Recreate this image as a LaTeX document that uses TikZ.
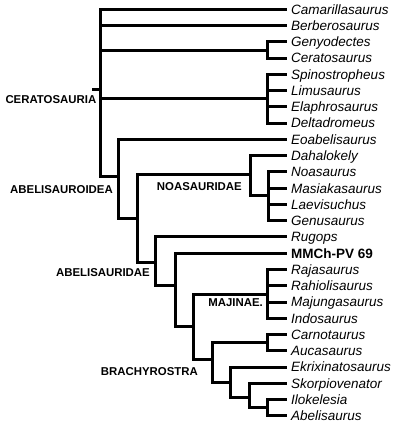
\documentclass[tikz,border=0pt]{standalone}
\usepackage{fontspec}
\setmainfont{Liberation Sans}
\begin{document}
\begin{tikzpicture}[x=1pt,y=-1pt,
  br/.style={line width=3pt},
  taxon/.style={anchor=base west, inner sep=0pt, xshift=4pt, yshift=-4.8pt, font=\itshape\fontsize{13.5}{16}\selectfont},
  taxonb/.style={taxon, font=\bfseries\fontsize{13.5}{16}\selectfont},
  clade/.style={anchor=east, inner sep=0pt, font=\bfseries\fontsize{11.4}{13}\selectfont}]
\useasboundingbox (0,0) rectangle (400,426);
% tips
\foreach \i/\yy in {0/9.3,1/25.6,2/41.8,3/58.1,4/74.3,5/90.6,6/106.9,7/123.1,8/139.4,9/155.6,10/171.9,11/188.2,12/204.4,13/220.7,14/236.9,15/253.2,16/269.5,17/285.7,18/302.0,19/318.2,20/334.5,21/350.8,22/367.0,23/383.3,24/399.5,25/415.8}
  \coordinate (t\i) at (287,\yy);
% internal nodes
\coordinate (rs) at (92,89);
\coordinate (R) at (100,89);
\coordinate (G1) at (267,50);
\coordinate (G2) at (267,98.5);
\coordinate (ABO) at (118,176);
\coordinate (N1) at (137,218);
\coordinate (NOA) at (250,174);
\coordinate (N2) at (268,195.5);
\coordinate (ABD) at (155,262);
\coordinate (N3) at (175,285);
\coordinate (N4) at (193,326);
\coordinate (MAJ) at (267,294);
\coordinate (BRA) at (212,359);
\coordinate (N5) at (267,342.5);
\coordinate (N6) at (230,382);
\coordinate (N7) at (249,397);
\coordinate (N8) at (267,407.6);
% branches
\draw[br] (rs) -- (R);
\draw[br] (R) |- (t0);
\draw[br] (R) |- (t1);
\draw[br] (R) |- (G1);
\draw[br] (R) |- (G2);
\draw[br] (R) |- (ABO);
\draw[br] (G1) |- (t2);
\draw[br] (G1) |- (t3);
\foreach \i in {4,5,6,7} \draw[br] (G2) |- (t\i);
\draw[br] (ABO) |- (t8);
\draw[br] (ABO) |- (N1);
\draw[br] (N1) |- (NOA);
\draw[br] (N1) |- (ABD);
\draw[br] (NOA) |- (t9);
\draw[br] (NOA) |- (N2);
\foreach \i in {10,11,12,13} \draw[br] (N2) |- (t\i);
\draw[br] (ABD) |- (t14);
\draw[br] (ABD) |- (N3);
\draw[br] (N3) |- (t15);
\draw[br] (N3) |- (N4);
\draw[br] (N4) |- (MAJ);
\draw[br] (N4) |- (BRA);
\foreach \i in {16,17,18,19} \draw[br] (MAJ) |- (t\i);
\draw[br] (BRA) |- (N5);
\draw[br] (BRA) |- (N6);
\draw[br] (N5) |- (t20);
\draw[br] (N5) |- (t21);
\draw[br] (N6) |- (t22);
\draw[br] (N6) |- (N7);
\draw[br] (N7) |- (t23);
\draw[br] (N7) |- (N8);
\draw[br] (N8) |- (t24);
\draw[br] (N8) |- (t25);
% taxon labels
\node[taxon] (l0) at (t0) {Camarillasaurus};
\node[taxon] (l1) at (t1) {Berberosaurus};
\node[taxon] (l2) at (t2) {Genyodectes};
\node[taxon] (l3) at (t3) {Ceratosaurus};
\node[taxon] (l4) at (t4) {Spinostropheus};
\node[taxon] (l5) at (t5) {Limusaurus};
\node[taxon] (l6) at (t6) {Elaphrosaurus};
\node[taxon] (l7) at (t7) {Deltadromeus};
\node[taxon] (l8) at (t8) {Eoabelisaurus};
\node[taxon] (l9) at (t9) {Dahalokely};
\node[taxon] (l10) at (t10) {Noasaurus};
\node[taxon] (l11) at (t11) {Masiakasaurus};
\node[taxon] (l12) at (t12) {Laevisuchus};
\node[taxon] (l13) at (t13) {Genusaurus};
\node[taxon] (l14) at (t14) {Rugops};
\node[taxonb] (l15) at (t15) {MMCh-PV 69};
\node[taxon] (l16) at (t16) {Rajasaurus};
\node[taxon] (l17) at (t17) {Rahiolisaurus};
\node[taxon] (l18) at (t18) {Majungasaurus};
\node[taxon] (l19) at (t19) {Indosaurus};
\node[taxon] (l20) at (t20) {Carnotaurus};
\node[taxon] (l21) at (t21) {Aucasaurus};
\node[taxon] (l22) at (t22) {Ekrixinatosaurus};
\node[taxon] (l23) at (t23) {Skorpiovenator};
\node[taxon] (l24) at (t24) {Ilokelesia};
\node[taxon] (l25) at (t25) {Abelisaurus};
% clade labels
\node[clade] (c1) at (96.5,100) {CERATOSAURIA};
\node[clade] (c2) at (113,190) {ABELISAUROIDEA};
\node[clade] (c3) at (242,187) {NOASAURIDAE};
\node[clade] (c4) at (150,273) {ABELISAURIDAE};
\node[clade] (c5) at (263,303) {MAJINAE.};
\node[clade] (c6) at (198,372) {BRACHYROSTRA};
\end{tikzpicture}
\end{document}
